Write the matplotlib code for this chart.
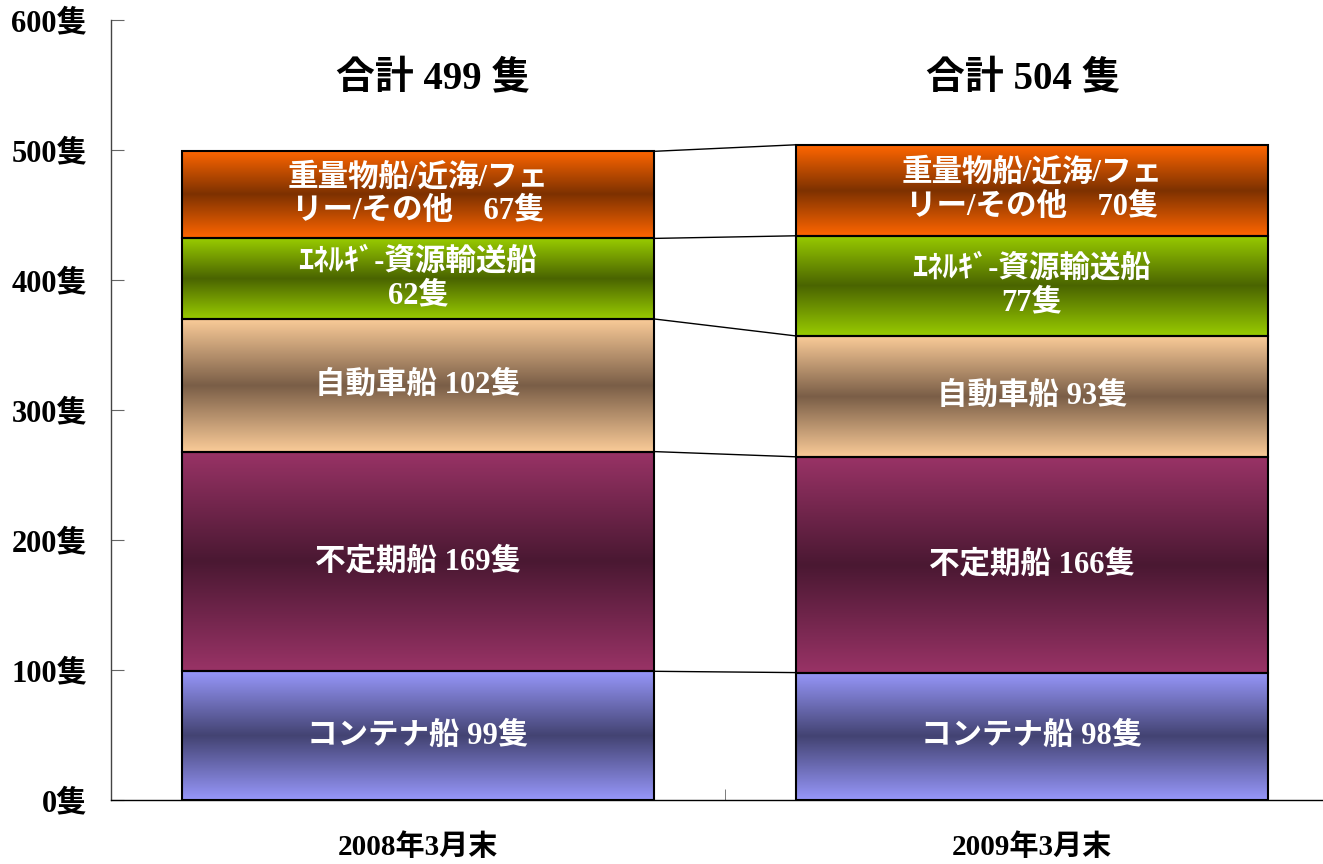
import numpy as np
import matplotlib
matplotlib.use("Agg")
import matplotlib.pyplot as plt
from matplotlib.patches import Rectangle

# ---------------- data ----------------
categories = ['2008年3月末', '2009年3月末']
segment_keys = ['container', 'tramp', 'car', 'energy', 'heavy']
values_2008 = [99, 169, 102, 62, 67]
values_2009 = [98, 166, 93, 77, 70]
label_templates = [
    'コンテナ船 {v}隻',
    '不定期船 {v}隻',
    '自動車船 {v}隻',
    'ｴﾈﾙｷﾞ-資源輸送船\n{v}隻',
    '重量物船/近海/フェ\nリー/その他　{v}隻',
]
yticks = [0, 100, 200, 300, 400, 500, 600]
ytick_labels = [f'{v}隻' for v in yticks]

# gradient colours: (edge colour, centre colour)
seg_colors = [
    ('#9797FA', '#434372'),
    ('#993366', '#4A1832'),
    ('#FACB98', '#7A5E47'),
    ('#99CC00', '#4A6400'),
    ('#FF6600', '#7D3100'),
]

FONT = ['Liberation Serif', 'Noto Sans CJK JP']

W, H = 1323, 864
fig = plt.figure(figsize=(W / 100, H / 100), dpi=100)
ax = fig.add_axes([111 / W, (H - 800) / H, 1228 / W, 780 / H])

bar_w = 0.77
data = [values_2008, values_2009]


def hex2rgb(h):
    h = h.lstrip('#')
    return np.array([int(h[i:i + 2], 16) for i in (0, 2, 4)]) / 255.0


n = 256
t = np.linspace(0, 1, n)
wgt = 1 - np.abs(2 * t - 1)

tops = []
for i, vals in enumerate(data):
    bottom = 0
    tp = []
    for k, v in enumerate(vals):
        e = hex2rgb(seg_colors[k][0])
        c = hex2rgb(seg_colors[k][1])
        grad = e[None, :] * (1 - wgt[:, None]) + c[None, :] * wgt[:, None]
        img = grad[:, None, :]
        x0, x1 = i - bar_w / 2, i + bar_w / 2
        ax.imshow(img, extent=(x0, x1, bottom, bottom + v), aspect='auto',
                  origin='lower', zorder=2, interpolation='bilinear')
        ax.add_patch(Rectangle((x0, bottom), bar_w, v, facecolor='none',
                               edgecolor='black', lw=1.5, zorder=3))
        ax.text(i, bottom + v / 2, label_templates[k].format(v=v),
                ha='center', va='center', color='white', fontsize=22,
                fontweight='bold', family=FONT, zorder=4, linespacing=1.2)
        bottom += v
        tp.append(bottom)
    tops.append(tp)
    ax.text(i + (0.025 if i == 0 else -0.015), 554, f'合計 {sum(vals)} 隻',
            ha='center', va='center',
            color='black', fontsize=28, fontweight='bold', family=FONT, zorder=4)

# connector lines
for k in range(len(segment_keys)):
    ax.plot([0 + bar_w / 2, 1 - bar_w / 2], [tops[0][k], tops[1][k]],
            color='black', lw=1.0, zorder=1)

ax.set_xlim(-0.5, 1.5)
ax.set_ylim(0, 600)

for s in ['top', 'right']:
    ax.spines[s].set_visible(False)
ax.spines['left'].set_color('#444444')
ax.spines['bottom'].set_color('black')
ax.spines['left'].set_linewidth(1.0)
ax.spines['bottom'].set_linewidth(1.0)

ax.set_yticks(yticks)
ax.set_yticklabels(ytick_labels, family=FONT, fontsize=22, fontweight='bold')
ax.tick_params(axis='y', direction='in', length=9, color='#666666', pad=17)

ax.set_xticks([0, 1])
ax.set_xticklabels(categories, family=FONT, fontsize=21, fontweight='bold')
ax.set_xticks([0.5], minor=True)
ax.tick_params(axis='x', which='major', length=0, pad=24)
ax.tick_params(axis='x', which='minor', direction='in', length=8, color='#666666')

fig.savefig('out.png', dpi=100)
